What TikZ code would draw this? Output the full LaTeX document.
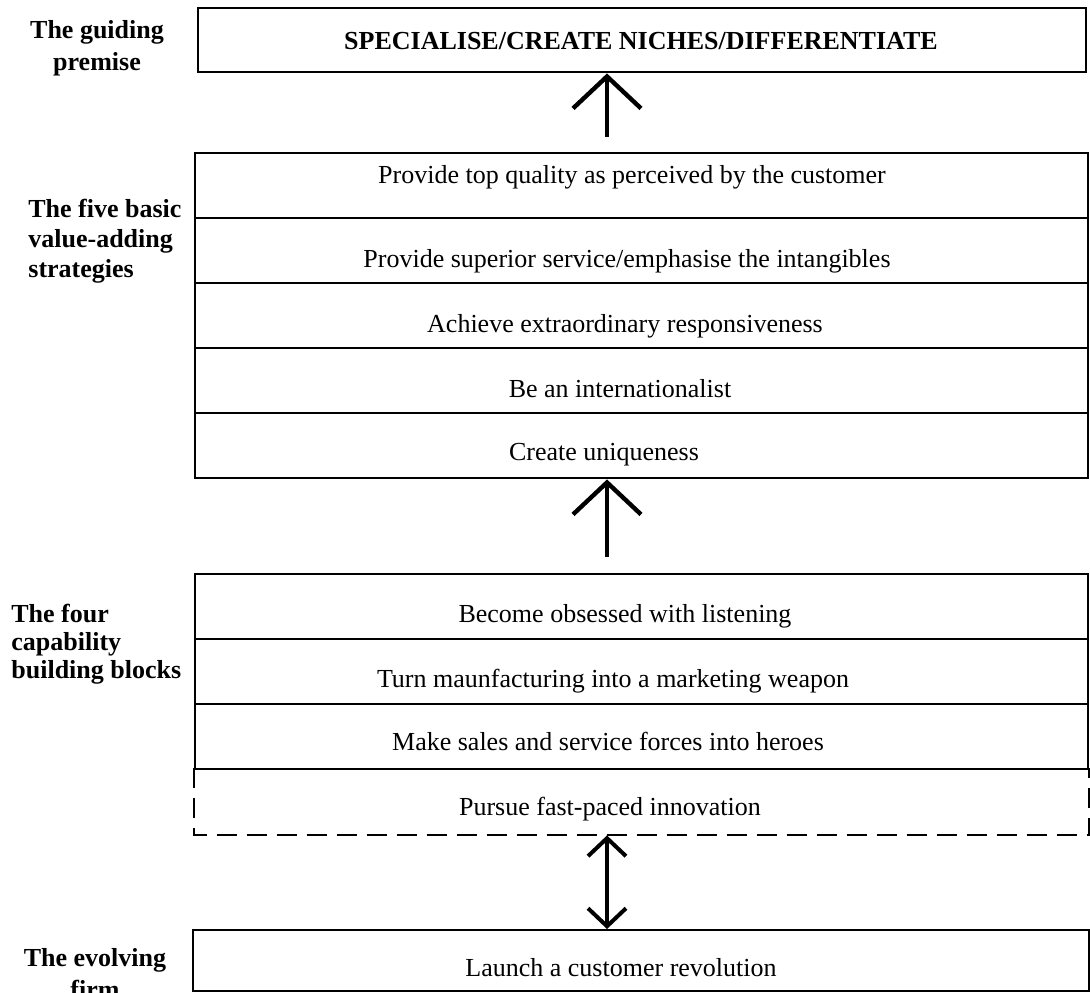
\documentclass[tikz,border=0pt]{standalone}
\usepackage{fontspec}
\setmainfont{Liberation Serif}
\usetikzlibrary{arrows.meta,positioning,calc}

\begin{document}
\begin{tikzpicture}[
  x=0.5pt, y=-0.5pt,
  font=\fontsize{13}{16}\selectfont,
  box/.style={draw=black, line width=1.2pt, minimum width=446.5pt, minimum height=32.5pt, inner sep=0pt, anchor=north west},
  txt/.style={anchor=base, inner sep=0pt},
  lbl/.style={font=\fontsize{13}{16}\selectfont\bfseries, inner sep=0pt, anchor=base},
  uparr/.style={line width=2.2pt, -{Straight Barb[length=16pt, width=34pt]}},
  bothtip/.style={line width=2pt, {Straight Barb[length=9pt, width=19pt]}-{Straight Barb[length=9pt, width=19pt]}}]
\useasboundingbox (0,0) rectangle (1090,992);
% guiding premise
\node[box, minimum width=444pt, minimum height=32pt] (prem) at (197,7) {};
\node[txt, font=\fontsize{13}{16}\selectfont\bfseries] at (641,49) {SPECIALISE/CREATE NICHES/DIFFERENTIATE};
% five value-adding strategies
\foreach \y/\tx/\ty/\txt [count=\i] in {
  152/632/183/Provide top quality as perceived by the customer,
  217/627/267/{Provide superior service/emphasise the intangibles},
  282/625/332/Achieve extraordinary responsiveness,
  347/620/397/Be an internationalist,
  412/604/460/Create uniqueness} {
  \node[box] (v\i) at (194,\y) {};
  \node[txt] at (\tx,\ty) {\txt};
}
% four building blocks
\foreach \y/\tx/\ty/\txt [count=\i] in {
  573/625/622/Become obsessed with listening,
  638/613/687/Turn maunfacturing into a marketing weapon,
  703/608/750/Make sales and service forces into heroes} {
  \node[box] (b\i) at (194,\y) {};
  \node[txt] at (\tx,\ty) {\txt};
}
\node[box, draw=none] (b4) at (194,768) {};
\node[txt] at (610,815) {Pursue fast-paced innovation};
\draw[line width=1pt, dash pattern=on 10pt off 5pt] (b4.north west) -- (b4.south west) -- (b4.south east) -- (b4.north east);
% evolving firm
\node[box, minimum width=448pt, minimum height=30.5pt] (firm) at (192,929) {};
\node[txt] at (621,976) {Launch a customer revolution};
% left labels (base = last line)
\node[lbl, align=center] (lprem) at (97,70) {The guiding\\premise};
\node[lbl, align=left, anchor=base west] (lval) at (28,277) {The five basic\\[-1pt]value-adding\\[-1pt]strategies};
\node[lbl, align=left, anchor=base west] (lcap) at (11,678) {The four\\[-2pt]capability\\[-2pt]building blocks};
\node[lbl, align=center] (lfirm) at (95,998) {The evolving\\firm};
% arrows
\coordinate (ax) at (607,0);
\draw[uparr, shorten <=7.5pt] (v1.north -| ax) -- (prem.south -| ax);
\draw[uparr, shorten <=8pt] (b1.north -| ax) -- (v5.south -| ax);
\draw[bothtip] (b4.south -| ax) -- (firm.north -| ax);
\end{tikzpicture}
\end{document}
